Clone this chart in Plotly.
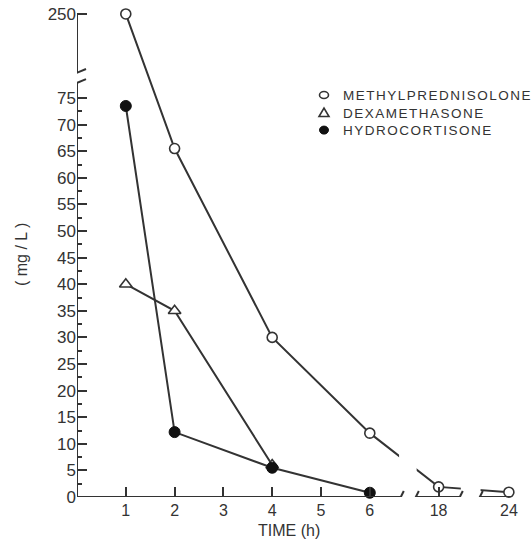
import plotly.graph_objects as go

# ---------------- data ----------------
TIME_H = [1, 2, 4, 6, 18, 24]
METHYLPRED = [250, 65.5, 30, 12, 1.9, 0.9]
DEXA_TIME = [1, 2, 4]
DEXA = [40, 35, 6]
HYDRO_TIME = [1, 2, 4, 6]
HYDRO = [73.5, 12.2, 5.5, 0.8]

SERIES_NAMES = ["METHYLPREDNISOLONE", "DEXAMETHASONE", "HYDROCORTISONE"]
Y_TICKS = [0, 5, 10, 15, 20, 25, 30, 35, 40, 45, 50, 55, 60, 65, 70, 75, 250]
Y_MINOR = [2.5, 7.5, 12.5, 17.5, 22.5, 27.5, 32.5, 37.5, 42.5, 47.5, 52.5, 57.5, 62.5, 67.5, 72.5]
X_TICKS = [1, 2, 3, 4, 5, 6, 18, 24]
X_TICK_MARKS = [1, 2, 3, 4, 5, 6, 18]


# ---------------- broken-axis scales ----------------
def xp(h):
    """hours -> position on a broken time axis"""
    if h <= 7:
        return h
    if h <= 20:
        return 7.41 + (h - 18)
    return 8.85 + (h - 24)


def yp(v):
    """mg/L -> position on a broken concentration axis"""
    return v if v <= 80 else 90.8 + (v - 250)


INK = "#333333"
FONT = "Liberation Sans, Arial, sans-serif"
L, T, PW, PH = 77, 2, 449, 495


def px_to_paper(px, py):
    return (px - L) / PW, 1 - (py - T) / PH


fig = go.Figure()

series = [
    (TIME_H, METHYLPRED, dict(symbol="circle", size=10, color="white", line=dict(color=INK, width=1.6))),
    (DEXA_TIME, DEXA, dict(symbol="triangle-up", size=11, color="white", line=dict(color=INK, width=1.6))),
    (HYDRO_TIME, HYDRO, dict(symbol="circle", size=11, color="#111111", line=dict(color="#111111", width=1))),
]
for (t, v, _), name in zip(series, SERIES_NAMES):
    fig.add_trace(go.Scatter(x=[xp(a) for a in t], y=[yp(b) for b in v], mode="lines",
                             name=name, line=dict(color=INK, width=2), showlegend=False,
                             cliponaxis=False, hoverinfo="skip"))
for (t, v, mk), name in zip(series, SERIES_NAMES):
    fig.add_trace(go.Scatter(x=[xp(a) for a in t], y=[yp(b) for b in v], mode="markers",
                             name=name, marker=mk, showlegend=False, cliponaxis=False))
# helper trace so the overlay tick axes are drawn
fig.add_trace(go.Scatter(x=[], y=[], xaxis="x2", yaxis="y2", showlegend=False))

X_RANGE = [0, PW / 48.8]
Y_RANGE = [0, PH / 5.32]

shapes = []
# white-out gaps in the lines crossing the breaks of the time axis
for a, b, y0 in [(6.60, 6.96, 1), (7.865, 8.27, 0.4)]:
    shapes.append(dict(type="rect", xref="x", yref="y", x0=a, x1=b, y0=y0, y1=20,
                       fillcolor="white", line=dict(width=0), layer="above"))
# broken x axis line
for a, b in [(0, 6.635), (6.943, 7.844), (8.254, 8.92)]:
    shapes.append(dict(type="line", xref="x", yref="y", x0=a, x1=b, y0=0, y1=0,
                       line=dict(color=INK, width=2), layer="above"))
for a in [6.635, 6.943, 7.844, 8.254]:
    shapes.append(dict(type="line", xref="x", yref="y", xsizemode="pixel", ysizemode="pixel",
                       xanchor=a, yanchor=0, x0=-3, x1=3, y0=-6, y1=6,
                       line=dict(color=INK, width=2), layer="above"))
# broken y axis line
for a, b in [(0, 77.8), (79.7, 90.8)]:
    shapes.append(dict(type="line", xref="x", yref="y", x0=0, x1=0, y0=a, y1=b,
                       line=dict(color=INK, width=2), layer="above"))
for a in [77.8, 79.7]:
    shapes.append(dict(type="line", xref="x", yref="y", xsizemode="pixel", ysizemode="pixel",
                       xanchor=0, yanchor=a, x0=-10, x1=9, y0=-4, y1=4,
                       line=dict(color=INK, width=2), layer="above"))

# legend (symbols as shapes, labels as one block of text)
LEG_FONT = 13.5
LEG_TOP, LEG_STEP = 95, 1.3 * LEG_FONT
annotations = []
for i in range(3):
    sx, sy = px_to_paper(324, LEG_TOP + i * LEG_STEP)
    if i == 0:
        shapes.append(dict(type="circle", xref="paper", yref="paper", xsizemode="pixel",
                           ysizemode="pixel", xanchor=sx, yanchor=sy, x0=-4.5, x1=4.5,
                           y0=-3.5, y1=3.5, fillcolor="white", line=dict(color=INK, width=1.6)))
    elif i == 1:
        shapes.append(dict(type="path", xref="paper", yref="paper", xsizemode="pixel",
                           ysizemode="pixel", xanchor=sx, yanchor=sy,
                           path="M -5,-4 L 5,-4 L 0,4.5 Z", fillcolor="white",
                           line=dict(color=INK, width=1.6)))
    else:
        shapes.append(dict(type="circle", xref="paper", yref="paper", xsizemode="pixel",
                           ysizemode="pixel", xanchor=sx, yanchor=sy, x0=-4.5, x1=4.5,
                           y0=-4, y1=4, fillcolor="#111111", line=dict(color="#111111", width=1)))
tx, ty = px_to_paper(341, LEG_TOP + LEG_STEP)
annotations.append(dict(
    text="<br>".join('<span style="letter-spacing:1.5px">%s</span>' % n for n in SERIES_NAMES),
    xref="paper", yref="paper", x=tx, y=ty, xanchor="left", yanchor="middle", align="left",
    showarrow=False, font=dict(size=LEG_FONT, family=FONT, color=INK)))

ax, ay = px_to_paper(289, 530)
annotations.append(dict(text="TIME (h)", xref="paper", yref="paper", x=ax, y=ay,
                        xanchor="center", yanchor="middle", showarrow=False,
                        font=dict(size=16, family=FONT, color=INK)))
ax, ay = px_to_paper(22, 255)
annotations.append(dict(text="( mg / L )", xref="paper", yref="paper", x=ax, y=ay,
                        xanchor="center", yanchor="middle", textangle=-90, showarrow=False,
                        font=dict(size=16, family=FONT, color=INK)))

fig.update_layout(
    width=531, height=550,
    margin=dict(l=L, r=531 - L - PW, t=T, b=550 - T - PH, autoexpand=False),
    paper_bgcolor="white", plot_bgcolor="white",
    font=dict(family=FONT, color=INK, size=16),
    showlegend=False,
    xaxis=dict(range=X_RANGE, tickmode="array", tickvals=[xp(t) for t in X_TICKS],
               ticktext=[str(t) for t in X_TICKS], ticks="", showgrid=False,
               zeroline=False, showline=False, ticklabelstandoff=2,
               tickfont=dict(size=16), automargin=False),
    xaxis2=dict(range=X_RANGE, overlaying="x", anchor="y", tickmode="array",
                tickvals=[xp(t) for t in X_TICK_MARKS], ticks="inside", ticklen=10,
                tickwidth=2, tickcolor=INK, showticklabels=False, showgrid=False,
                zeroline=False, showline=False),
    yaxis=dict(range=Y_RANGE, tickmode="array", tickvals=[yp(v) for v in Y_TICKS],
               ticktext=[str(v) for v in Y_TICKS], ticks="inside", ticklen=10,
               tickwidth=2, tickcolor=INK, showgrid=False, zeroline=False,
               showline=False, ticklabelstandoff=0, tickfont=dict(size=17),
               automargin=False),
    yaxis2=dict(range=Y_RANGE, overlaying="y", anchor="x", side="left", tickmode="array",
                tickvals=Y_MINOR, ticks="inside", ticklen=5, tickwidth=2, tickcolor=INK,
                showticklabels=False, showgrid=False, zeroline=False, showline=False),
    shapes=shapes,
    annotations=annotations,
)

fig.write_html("out.html", config={"displayModeBar": False},
               post_script="document.body.style.margin='0';")
